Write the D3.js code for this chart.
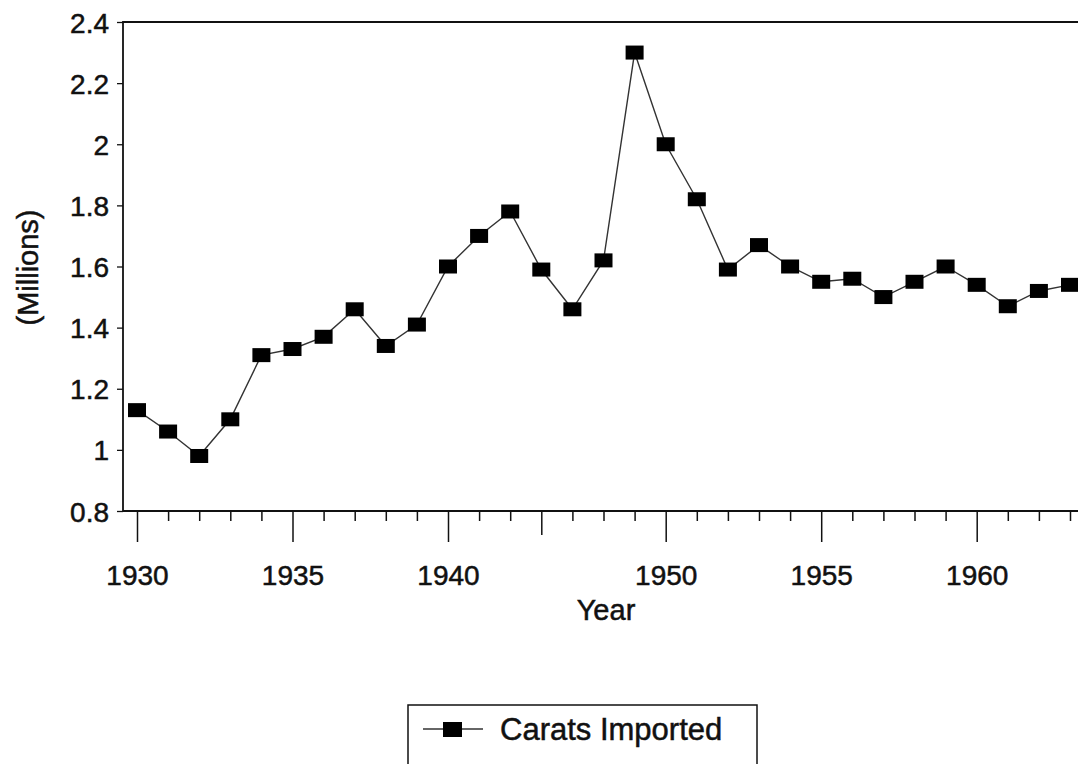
<!DOCTYPE html>
<html>
<head>
<meta charset="utf-8">
<script src="https://cdn.jsdelivr.net/npm/d3@7"></script>
<style>
  body { margin: 0; background: #fff; }
  svg { font-family: "Liberation Sans", Arial, sans-serif; }
  svg text { stroke: #111; stroke-width: 0.5px; }
</style>
</head>
<body>
<div id="chart"></div>
<script>
// Years plotted (war years 1943-1945 are absent from the series)
const years = [1930, 1931, 1932, 1933, 1934, 1935, 1936, 1937, 1938, 1939, 1940, 1941, 1942,
  1946, 1947, 1948, 1949, 1950, 1951, 1952, 1953, 1954, 1955, 1956, 1957, 1958, 1959,
  1960, 1961, 1962, 1963];
// Carats imported, millions
const carats = [1.13, 1.06, 0.98, 1.10, 1.31, 1.33, 1.37, 1.46, 1.34, 1.41, 1.60, 1.70, 1.78,
  1.59, 1.46, 1.62, 2.30, 2.00, 1.82, 1.59, 1.67, 1.60, 1.55, 1.56, 1.50, 1.55, 1.60,
  1.54, 1.47, 1.52, 1.54];
const yTicks = [0.8, 1.0, 1.2, 1.4, 1.6, 1.8, 2.0, 2.2, 2.4];
const labelYears = [1930, 1935, 1940, 1950, 1955, 1960];
const longTickYears = [1930, 1935, 1940, 1946, 1950, 1955, 1960];
const seriesName = 'Carats Imported';

const width = 1078, height = 764;
const margin = {top: 22, right: 0, bottom: 253, left: 123};
const ink = '#111';

const svg = d3.select('#chart').append('svg')
  .attr('width', width)
  .attr('height', height)
  .attr('viewBox', [0, 0, width, height]);

const x = d3.scalePoint(years, [137, 1070]);
const y = d3.scaleLinear([0.8, 2.4], [height - margin.bottom, margin.top]);
const bottom = height - margin.bottom;

// frame: left, top and bottom edges
svg.append('path')
  .attr('d', `M${width},${margin.top}H${margin.left}V${bottom}H${width}`)
  .attr('fill', 'none')
  .attr('stroke', ink)
  .attr('stroke-width', 1.8);

// y axis
const yAxis = svg.append('g')
  .attr('transform', `translate(${margin.left},0)`)
  .call(d3.axisLeft(y).tickValues(yTicks).tickSize(6).tickPadding(8)
    .tickFormat(d => String(+d.toFixed(1))));
yAxis.select('.domain').remove();
yAxis.selectAll('line').attr('stroke', ink).attr('stroke-width', 1.3);
yAxis.selectAll('text')
  .attr('fill', ink)
  .attr('dy', '0.36em')
  .style('font-size', '28px');

// x axis
const xAxis = svg.append('g')
  .attr('transform', `translate(0,${bottom})`)
  .call(d3.axisBottom(x).tickSize(10).tickPadding(44)
    .tickFormat(d => labelYears.includes(d) ? d : ''));
xAxis.select('.domain').remove();
xAxis.selectAll('.tick line')
  .attr('stroke', ink)
  .attr('stroke-width', 1.5)
  .attr('y2', d => longTickYears.includes(d) ? (d === 1946 ? 24 : 31) : 10);
xAxis.selectAll('.tick text')
  .attr('fill', ink)
  .style('font-size', '28px');

// axis titles
svg.append('text')
  .attr('transform', `translate(38,${(margin.top + bottom) / 2 + 1}) rotate(-90)`)
  .attr('text-anchor', 'middle')
  .attr('fill', ink)
  .style('font-size', '29px')
  .text('(Millions)');

svg.append('text')
  .attr('x', 606)
  .attr('y', 620)
  .attr('text-anchor', 'middle')
  .attr('fill', ink)
  .style('font-size', '29px')
  .text('Year');

// series line and markers
const line = d3.line()
  .x((d, i) => x(years[i]))
  .y(d => y(d));

svg.append('path')
  .datum(carats)
  .attr('d', line)
  .attr('fill', 'none')
  .attr('stroke', '#333')
  .attr('stroke-width', 1.4);

svg.append('g').selectAll('rect')
  .data(carats)
  .join('rect')
  .attr('x', (d, i) => x(years[i]) - 9)
  .attr('y', d => y(d) - 7)
  .attr('width', 18)
  .attr('height', 14)
  .attr('fill', '#000');

// legend
const legend = svg.append('g').attr('transform', 'translate(408,705)');
legend.append('rect')
  .attr('width', 349)
  .attr('height', 80)
  .attr('fill', 'none')
  .attr('stroke', ink)
  .attr('stroke-width', 1.5);
legend.append('line')
  .attr('x1', 15).attr('x2', 75)
  .attr('y1', 24).attr('y2', 24)
  .attr('stroke', '#333')
  .attr('stroke-width', 1.4);
legend.append('rect')
  .attr('x', 35).attr('y', 17)
  .attr('width', 19).attr('height', 15)
  .attr('fill', '#000');
legend.append('text')
  .attr('x', 92)
  .attr('y', 35)
  .attr('fill', ink)
  .style('font-size', '31px')
  .text(seriesName);
</script>
</body>
</html>
